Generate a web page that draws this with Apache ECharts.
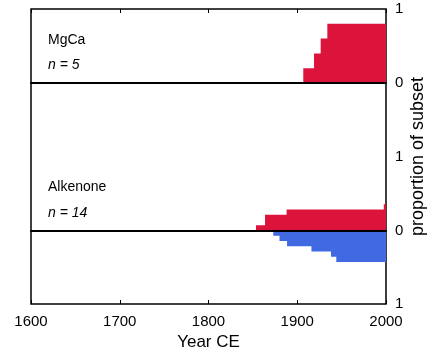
<!DOCTYPE html>
<html>
<head>
<meta charset="utf-8">
<script src="https://cdn.jsdelivr.net/npm/echarts@6/dist/echarts.min.js"></script>
<style>html,body{margin:0;padding:0;background:#fff}#c{width:440px;height:356px}</style>
</head>
<body>
<div id="c"></div>
<script>
// Data
var xTicks = [1600, 1700, 1800, 1900, 2000];
var mgcaYears = [1906.8, 1918.9, 1926.4, 1933.9, 2000];
var mgcaProp  = [0.2, 0.4, 0.6, 0.8, 0.8];
var alkUpYears = [1853.5, 1863.7, 1888, 1997.5, 2000];
var alkUpProp  = [0.071, 0.214, 0.286, 0.357, 0.357];
var alkDnYears = [1873, 1880, 1888.5, 1916, 1938, 1944, 2000];
var alkDnProp  = [-0.071, -0.143, -0.214, -0.286, -0.357, -0.429, -0.429];
var panelLabels = [["MgCa", "n = 5"], ["Alkenone", "n = 14"]];

function pairs(xs, ys){ return xs.map(function(x,i){ return [x, ys[i]]; }); }

var FONT = "Liberation Sans";
var RED = "#DC143C", BLUE = "#4169E1";
var L = 31, R = 54, TOP = 9, BOT = 52;

var chart = echarts.init(document.getElementById('c'), null, {renderer:'canvas'});
function hiddenX(gi, extra){
  return Object.assign({gridIndex: gi, type:'value', min:xTicks[0], max:xTicks[xTicks.length-1], interval:xTicks[1]-xTicks[0],
    axisLine:{show:false}, axisTick:{show:false}, axisLabel:{show:false}, splitLine:{show:false}}, extra||{});
}
var option = {
  animation:false,
  textStyle:{fontFamily:FONT},
  grid:[
    {left:L, right:R, top:TOP, bottom:BOT, show:true, borderColor:'#000', borderWidth:1.5, backgroundColor:'transparent'},
    {left:L, right:R, top:TOP, height:74},
    {left:L, right:R, top:157, bottom:BOT}
  ],
  xAxis:[
    hiddenX(0, {position:'bottom',
      axisTick:{show:true, inside:true, length:4, lineStyle:{color:'#000', width:1}},
      axisLabel:{show:true, color:'#000', fontSize:15, margin:10, fontFamily:FONT,
        formatter:function(v){ return String(v); }},
      name:'Year CE', nameLocation:'middle', nameGap:30,
      nameTextStyle:{fontSize:17, color:'#000', fontFamily:FONT}}),
    hiddenX(0, {position:'top', axisTick:{show:true, inside:true, length:4, lineStyle:{color:'#000', width:1}}}),
    hiddenX(1, {position:'bottom', z:10, axisLine:{show:true, onZero:false, lineStyle:{color:'#000', width:2}}}),
    hiddenX(2, {z:10, axisLine:{show:true, onZero:true, lineStyle:{color:'#000', width:2}}})
  ],
  yAxis:[
    {gridIndex:0, type:'value', min:0, max:1, position:'right',
      axisLine:{show:false}, axisTick:{show:false}, axisLabel:{show:false}, splitLine:{show:false},
      name:'proportion of subset', nameLocation:'middle', nameGap:23, nameRotate:90,
      nameTextStyle:{fontSize:18, color:'#000', fontFamily:FONT}},
    {gridIndex:1, type:'value', min:0, max:1, interval:1, position:'right',
      axisLine:{show:false}, axisTick:{show:false}, splitLine:{show:false},
      axisLabel:{color:'#000', fontSize:15, margin:9, fontFamily:FONT}},
    {gridIndex:2, type:'value', min:-1, max:1, interval:1, position:'right',
      axisLine:{show:false}, axisTick:{show:false}, splitLine:{show:false},
      axisLabel:{color:'#000', fontSize:15, margin:9, fontFamily:FONT,
        formatter:function(v){ return String(Math.abs(v)); }}}
  ],
  series:[
    {type:'line', xAxisIndex:2, yAxisIndex:1, step:'end', showSymbol:false, silent:true,
      data:pairs(mgcaYears, mgcaProp), lineStyle:{width:0}, itemStyle:{color:RED},
      areaStyle:{color:RED, opacity:1, origin:0}},
    {type:'line', xAxisIndex:3, yAxisIndex:2, step:'end', showSymbol:false, silent:true,
      data:pairs(alkUpYears, alkUpProp), lineStyle:{width:0}, itemStyle:{color:RED},
      areaStyle:{color:RED, opacity:1, origin:0}},
    {type:'line', xAxisIndex:3, yAxisIndex:2, step:'end', showSymbol:false, silent:true,
      data:pairs(alkDnYears, alkDnProp), lineStyle:{width:0}, itemStyle:{color:BLUE},
      areaStyle:{color:BLUE, opacity:1, origin:0}}
  ],
  graphic:[
    {type:'text', left:48, top:33, style:{text:panelLabels[0][0], font:'14px "Liberation Sans"', fill:'#000'}},
    {type:'text', left:48, top:58, style:{text:panelLabels[0][1], font:'italic 14px "Liberation Sans"', fill:'#000'}},
    {type:'text', left:48, top:180, style:{text:panelLabels[1][0], font:'14px "Liberation Sans"', fill:'#000'}},
    {type:'text', left:48, top:206, style:{text:panelLabels[1][1], font:'italic 14px "Liberation Sans"', fill:'#000'}}
  ]
};
chart.setOption(option);
</script>
</body>
</html>
